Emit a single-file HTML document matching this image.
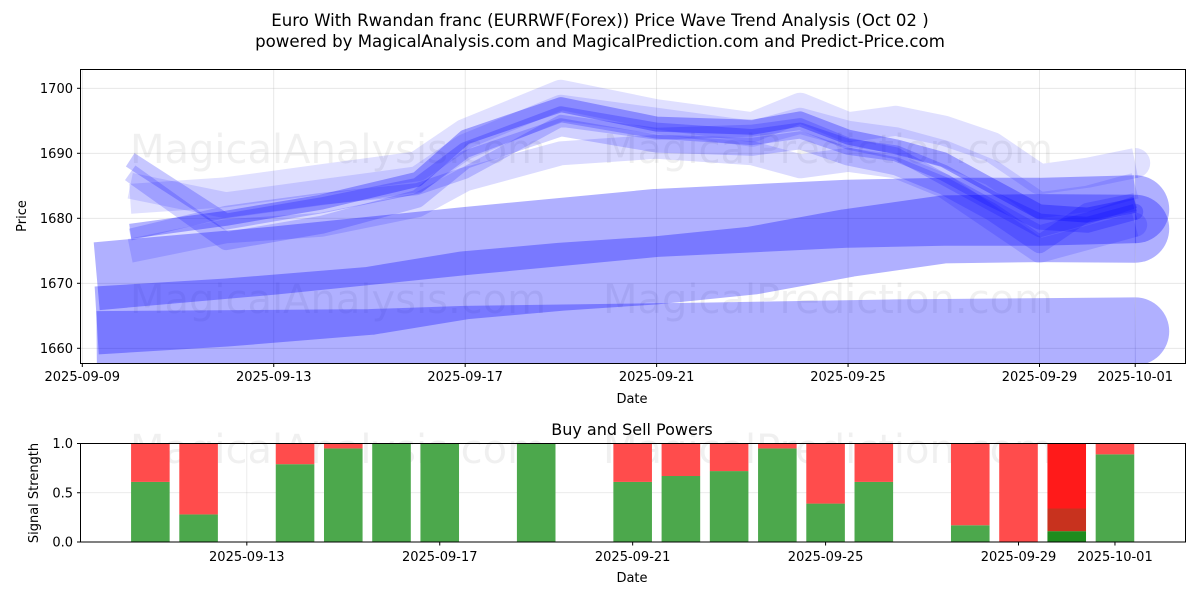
<!DOCTYPE html>
<html><head><meta charset="utf-8">
<style>
body{margin:0;background:#fff;width:1200px;height:600px;overflow:hidden;font-family:"DejaVu Sans","Liberation Sans",sans-serif;}
svg text{font-family:"DejaVu Sans","Liberation Sans",sans-serif;}
</style></head>
<body>
<svg id="chart" width="1200" height="600" viewBox="0 0 1200 600" xmlns="http://www.w3.org/2000/svg">
  <text x="600" y="26" text-anchor="middle" font-size="16.6">Euro With Rwandan franc (EURRWF(Forex)) Price Wave Trend Analysis (Oct 02 )</text>
  <text x="600" y="47" text-anchor="middle" font-size="16.6">powered by MagicalAnalysis.com and MagicalPrediction.com and Predict-Price.com</text>
  <defs>
    <clipPath id="topclip"><rect x="80.5" y="69.5" width="1105" height="294"/></clipPath>
  </defs>
  <g id="top-grid"></g>
  <g id="watermarks" font-size="40" fill="#000" fill-opacity="0.06">
    <text x="130" y="163">MagicalAnalysis.com</text>
    <text x="603" y="163">MagicalPrediction.com</text>
    <text x="130" y="313">MagicalAnalysis.com</text>
    <text x="603" y="313">MagicalPrediction.com</text>
    <text x="130" y="463">MagicalAnalysis.com</text>
    <text x="603" y="463">MagicalPrediction.com</text>
  </g>
  <g id="top-marks" clip-path="url(#topclip)"></g>
  <rect x="80.5" y="69.5" width="1105" height="294" fill="none" stroke="#000" stroke-width="1"/>
  <g id="top-axes"></g>
  <text x="632" y="403" text-anchor="middle" font-size="13">Date</text>
  <text transform="translate(26,216) rotate(-90)" text-anchor="middle" font-size="13">Price</text>

  <text x="632" y="435" text-anchor="middle" font-size="16">Buy and Sell Powers</text>
  <g id="bot-grid"></g>
  <g id="bot-marks"></g>
  <rect x="80.5" y="443.5" width="1105" height="98.5" fill="none" stroke="#000" stroke-width="1"/>
  <g id="bot-axes"></g>
  <text x="632" y="582" text-anchor="middle" font-size="13">Date</text>
  <text transform="translate(38,493) rotate(-90)" text-anchor="middle" font-size="13">Signal Strength</text>
</svg>
<script>
// ---- data (day offsets from 2025-09-09) ----
const topTickDays = [0, 4, 8, 12, 16, 20, 22];
const topTickLabels = ["2025-09-09","2025-09-13","2025-09-17","2025-09-21","2025-09-25","2025-09-29","2025-10-01"];
const priceTicks = [1660, 1670, 1680, 1690, 1700];

const bandDaysA = [0.3, 6, 8, 13, 17, 22];
const bandA = [1660.5, 1660.8, 1661.3, 1661.8, 1662.3, 1662.6];
const bandDaysB = [0.3, 3, 6, 8, 10, 12, 14, 16, 18, 20, 22];
const bandB = [1664.3, 1665.5, 1667.3, 1669.7, 1671, 1672, 1673.5, 1676.2, 1678.3, 1678.5, 1678.4];
const bandDaysC = [0.3, 4, 8, 12, 16, 18, 20, 22];
const bandC = [1671.1, 1673.5, 1676.5, 1679.3, 1680.7, 1681, 1681, 1681.4];

const waveDays = [1, 3, 5, 7, 8, 10, 12, 14, 15, 16, 17, 18, 19, 20, 21, 22];
const wave1 = [1678, 1680, 1682.5, 1686, 1692.5, 1697.5, 1694.5, 1694, 1695.3, 1692.5, 1691, 1689, 1685, 1681, 1680.5, 1682];
const wave2 = [1689, 1679.5, 1682, 1685, 1690.5, 1696, 1693.5, 1692.5, 1693.5, 1691, 1690, 1687, 1683, 1679.5, 1679, 1681];
const wave3 = [1687, 1676.5, 1679, 1683, 1689, 1694, 1691.5, 1691, 1692, 1689.5, 1688, 1685, 1681, 1676, 1681, 1682.5];
const wave4 = [1683, 1684, 1686, 1688, 1693, 1699, 1696, 1694, 1697, 1694, 1695, 1693.5, 1691, 1686, 1687, 1688.5];
const wave5 = [1675, 1678, 1679, 1682, 1686, 1690, 1691, 1690, 1688, 1689, 1688, 1685, 1680, 1675, 1677, 1679];
const wave6 = [1677.5, 1681, 1683, 1684.5, 1687, 1695, 1693, 1693.5, 1694.5, 1691.5, 1690, 1686, 1682, 1678, 1680, 1682.5];
const wave7 = [1685, 1682, 1684, 1686, 1691, 1697, 1695, 1693, 1695, 1693, 1692, 1690, 1687, 1682, 1683, 1685];

const botTickDays = [4, 8, 12, 16, 20, 22];
const botTickLabels = ["2025-09-13","2025-09-17","2025-09-21","2025-09-25","2025-09-29","2025-10-01"];
const strengthTicks = [0, 0.5, 1.0];
const strengthLabels = ["0.0","0.5","1.0"];
const barDays = [2, 3, 5, 6, 7, 8, 10, 12, 13, 14, 15, 16, 17, 19, 20, 21, 22];
const buyPower = [0.61, 0.28, 0.79, 0.95, 1, 1, 1, 0.61, 0.67, 0.72, 0.95, 0.39, 0.61, 0.17, 0, 0.11, 0.89];
const midPower = [0, 0, 0, 0, 0, 0, 0, 0, 0, 0, 0, 0, 0, 0, 0, 0.23, 0];

// ---- scales ----
const xTop = d => 82.3 + d * 47.86;
const yTop = v => 348.3 - (v - 1660) * 6.5;
const xBot = d => 53.9 + d * 48.23;
const yBot = v => 542 - v * 98.5;
const NS = "http://www.w3.org/2000/svg";
function mk(tag, attrs, parent) {
  const e = document.createElementNS(NS, tag);
  for (const k in attrs) e.setAttribute(k, attrs[k]);
  parent.appendChild(e);
  return e;
}
const tg = document.getElementById("top-grid"), tm = document.getElementById("top-marks"), ta = document.getElementById("top-axes");
const bg = document.getElementById("bot-grid"), bm = document.getElementById("bot-marks"), ba = document.getElementById("bot-axes");

topTickDays.forEach((d, i) => {
  const x = xTop(d);
  const g = mk("line", {x1: x, x2: x, y1: 69.5, y2: 363.5, stroke: "#b0b0b0", "stroke-opacity": 0.35, "stroke-width": 0.8}, tg);
  
  
  mk("line", {x1: x, x2: x, y1: 363.5, y2: 367, stroke: "#000"}, ta);
  const t = mk("text", {x: x, y: 381, "text-anchor": "middle", "font-size": 13}, ta);
  t.textContent = topTickLabels[i];
  
  
});
priceTicks.forEach(v => {
  const y = yTop(v);
  const g = mk("line", {x1: 80.5, x2: 1185.5, y1: y, y2: y, stroke: "#b0b0b0", "stroke-opacity": 0.35, "stroke-width": 0.8}, tg);
  
  
  mk("line", {x1: 77, x2: 80.5, y1: y, y2: y, stroke: "#000"}, ta);
  const t = mk("text", {x: 73, y: y + 4.5, "text-anchor": "end", "font-size": 13}, ta);
  t.textContent = v;
  
  
});

function drawLine(days, vals, width, alpha, name, cap) {
  const pts = days.map((d, i) => xTop(d).toFixed(1) + "," + yTop(vals[i]).toFixed(1)).join(" ");
  const p = mk("polyline", {points: pts, fill: "none", stroke: "#0000ff", "stroke-opacity": alpha, "stroke-width": width, "stroke-linejoin": "round", "stroke-linecap": "butt"}, tm);
  
  
  if (cap) {
    const n = days.length - 1;
    const c = mk("path", {d: `M${xTop(days[n])},${yTop(vals[n]) - width/2} A${width/2},${width/2} 0 0 1 ${xTop(days[n])},${yTop(vals[n]) + width/2} Z`, fill: "#0000ff", "fill-opacity": alpha}, tm);
    
    
  }
}
drawLine(bandDaysA, bandA, 68, 0.31, "wave-band-low", true);
drawLine(bandDaysB, bandB, 68, 0.31, "wave-band-mid", true);
drawLine(bandDaysC, bandC, 68, 0.31, "wave-band-high", true);
drawLine(waveDays, wave4, 30, 0.12, "wave-pale-upper", true);
drawLine(waveDays, wave5, 24, 0.14, "wave-pale-lower", true);
drawLine(waveDays, wave7, 26, 0.12, "wave-pale-mid", false);
drawLine(waveDays, wave3, 18, 0.18, "wave-line-3", false);
drawLine(waveDays, wave2, 16, 0.22, "wave-line-2", true);
drawLine(waveDays, wave6, 12, 0.18, "wave-line-6", false);
drawLine(waveDays, wave1, 15, 0.3, "wave-line-main", false);

botTickDays.forEach((d, i) => {
  const x = xBot(d);
  const g = mk("line", {x1: x, x2: x, y1: 443.5, y2: 542, stroke: "#b0b0b0", "stroke-opacity": 0.3, "stroke-width": 0.8}, bg);
  
  
  mk("line", {x1: x, x2: x, y1: 542, y2: 545.5, stroke: "#000"}, ba);
  const t = mk("text", {x: x, y: 561, "text-anchor": "middle", "font-size": 13}, ba);
  t.textContent = botTickLabels[i];
  
  
});
strengthTicks.forEach((v, i) => {
  const y = yBot(v);
  const g = mk("line", {x1: 80.5, x2: 1185.5, y1: y, y2: y, stroke: "#b0b0b0", "stroke-opacity": 0.35, "stroke-width": 0.8}, bg);
  
  
  mk("line", {x1: 77, x2: 80.5, y1: y, y2: y, stroke: "#000"}, ba);
  const t = mk("text", {x: 73, y: y + 4.5, "text-anchor": "end", "font-size": 13}, ba);
  t.textContent = strengthLabels[i];
  
  
});

const bw = 0.8 * 48.23;
barDays.forEach((d, i) => {
  const x = xBot(d) - bw / 2;
  const special = midPower[i] > 0;
  const b = buyPower[i], m = midPower[i];
  const g = mk("rect", {x: x, y: yBot(b), width: bw, height: yBot(0) - yBot(b), fill: special ? "#1e8c1e" : "#4ca84c"}, bm);
  
  
  if (m > 0) {
    const mm = mk("rect", {x: x, y: yBot(b + m), width: bw, height: yBot(b) - yBot(b + m), fill: "#c8321e"}, bm);
    
    
  }
  const r = mk("rect", {x: x, y: yBot(1), width: bw, height: yBot(b + m) - yBot(1), fill: special ? "#ff1a1a" : "#ff4c4c"}, bm);
  
  
});
</script>
</body></html>
